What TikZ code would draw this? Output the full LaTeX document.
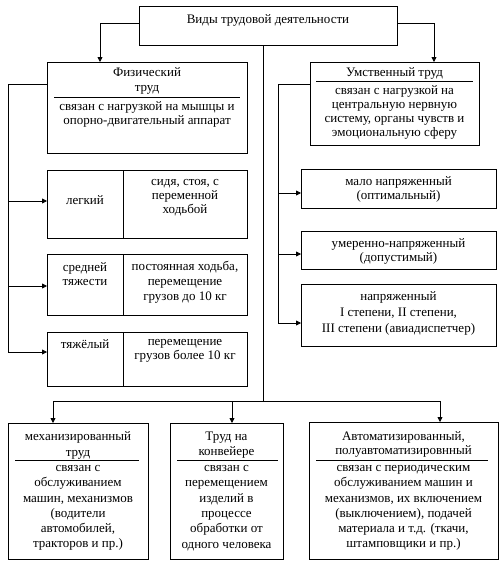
\documentclass[tikz,border=0pt]{standalone}
\usepackage{fontspec}
\setmainfont{Liberation Serif}
\usetikzlibrary{arrows.meta}
\begin{document}
\begin{tikzpicture}[x=1pt,y=-1pt,
  box/.style={draw, line width=0.8pt, inner sep=0pt, anchor=north west},
  txt/.style={align=center, inner sep=0pt, font=\fontsize{13}{14.5}\selectfont},
  txtb/.style={align=center, inner sep=0pt, font=\fontsize{13}{15.3}\selectfont},
  ln/.style={line width=0.8pt},
  conn/.style={line width=0.8pt, -{Triangle[length=5pt,width=5pt]}}]
\useasboundingbox[fill=white] (0,0) rectangle (500,563);

% top
\node[box, minimum width=258pt, minimum height=39pt] (top) at (139,6) {};
\node[txt] (toptxt) at (268,20) {Виды трудовой деятельности};

% physical
\node[box, minimum width=200pt, minimum height=91pt] (phys) at (47,62) {};
\node[txt, font=\fontsize{13}{15}\selectfont] (physT) at (147,80.5) {Физический\\труд};
\coordinate (ps1) at (54,97); \coordinate (ps2) at (240,97);
\draw[ln] (ps1) -- (ps2);
\node[txt, font=\fontsize{13}{13.5}\selectfont] (physB) at (147,114.5) {связан с нагрузкой на мышцы и\\опорно-двигательный аппарат};

% mental
\node[box, minimum width=169pt, minimum height=83pt] (ment) at (310,62) {};
\node[txt] (mentT) at (394.5,73) {Умственный труд};
\coordinate (ms1) at (316,81); \coordinate (ms2) at (473,81);
\draw[ln] (ms1) -- (ms2);
\node[txt, font=\fontsize{13}{13.8}\selectfont] (mentB) at (394.5,112.5) {связан с нагрузкой на\\центральную нервную\\систему, органы чувств и\\эмоциональную сферу};

% top connectors
\coordinate (tl) at (100,23); \coordinate (tr) at (434,23);
\draw[conn] (top.west |- tl) -- (tl) -- (tl |- phys.north);
\draw[conn] (top.east |- tr) -- (tr) -- (tr |- ment.north);

% left column boxes
\node[box, minimum width=200pt, minimum height=68pt] (legk) at (47,170) {};
\draw[ln] ([xshift=76pt]legk.north west) -- ([xshift=76pt]legk.south west);
\node[txt] (legkL) at (85,200) {легкий};
\node[txt, font=\fontsize{13}{14}\selectfont] (legkR) at (185,198) {сидя, стоя, с\\переменной\\ходьбой};

\node[box, minimum width=200pt, minimum height=61pt] (sred) at (47,254) {};
\draw[ln] ([xshift=76pt]sred.north west) -- ([xshift=76pt]sred.south west);
\node[txt, font=\fontsize{13}{14}\selectfont] (sredL) at (85,274) {средней\\тяжести};
\node[txt, font=\fontsize{13}{15}\selectfont] (sredR) at (185,282) {постоянная ходьба,\\перемещение\\грузов до 10 кг};

\node[box, minimum width=200pt, minimum height=54pt] (tyazh) at (47,332) {};
\draw[ln] ([xshift=76pt]tyazh.north west) -- ([xshift=76pt]tyazh.south west);
\node[txt] (tyazhL) at (85,344) {тяжёлый};
\node[txt, font=\fontsize{13}{14}\selectfont] (tyazhR) at (185,351) {перемещение\\грузов более 10 кг};

% left bracket
\coordinate (L1) at (8,84);
\coordinate (a1) at (8,201); \coordinate (a2) at (8,286); \coordinate (a3) at (8,352);
\draw[ln] (phys.west |- L1) -- (L1) -- (a3);
\draw[conn] (a1) -- (a1 -| legk.west);
\draw[conn] (a2) -- (a2 -| sred.west);
\draw[conn] (a3) -- (a3 -| tyazh.west);

% right column boxes
\node[box, minimum width=195pt, minimum height=39pt] (malo) at (301,169) {};
\node[txt, font=\fontsize{13}{13.5}\selectfont] (maloT) at (398.5,189.5) {мало напряженный\\(оптимальный)};
\node[box, minimum width=195pt, minimum height=38pt] (umer) at (301,231) {};
\node[txt, font=\fontsize{13}{13.5}\selectfont] (umerT) at (398.5,251.5) {умеренно-напряженный\\(допустимый)};
\node[box, minimum width=195pt, minimum height=62pt] (napr) at (301,284) {};
\node[txt, font=\fontsize{13}{16}\selectfont] (naprT) at (398.5,313) {напряженный\\I степени, II степени,\\III степени (авиадиспетчер)};

% right bracket
\coordinate (R1) at (278,84);
\coordinate (b1) at (278,193); \coordinate (b2) at (278,254); \coordinate (b3) at (278,323);
\draw[ln] (ment.west |- R1) -- (R1) -- (b3);
\draw[conn] (b1) -- (b1 -| malo.west);
\draw[conn] (b2) -- (b2 -| umer.west);
\draw[conn] (b3) -- (b3 -| napr.west);

% bottom boxes
\node[box, minimum width=140pt, minimum height=136pt] (mech) at (8,423) {};
\node[txtb, font=\fontsize{13}{16}\selectfont] (mechT) at (78,445.5) {механизированный\\труд};
\coordinate (es1) at (15,460); \coordinate (es2) at (139,460);
\draw[ln] (es1) -- (es2);
\node[txtb] (mechB) at (78,508) {связан с\\обслуживанием\\машин, механизмов\\(водители\\автомобилей,\\тракторов и пр.)};

\node[box, minimum width=113pt, minimum height=136pt] (conv) at (170,423) {};
\node[txtb, font=\fontsize{13}{15}\selectfont] (convT) at (226.5,445) {Труд на\\конвейере};
\coordinate (cs1) at (177,460); \coordinate (cs2) at (278,460);
\draw[ln] (cs1) -- (cs2);
\node[txtb] (convB) at (226.5,508) {связан с\\перемещением\\изделий в\\процессе\\обработки от\\одного человека};

\node[box, minimum width=189pt, minimum height=137pt] (auto) at (309,422) {};
\node[txtb, font=\fontsize{13}{14}\selectfont] (autoT) at (403.5,444) {Автоматизированный,\\полуавтоматизировнный};
\coordinate (as1) at (316,460); \coordinate (as2) at (488,460);
\draw[ln] (as1) -- (as2);
\node[txtb] (autoB) at (403.5,508) {связан с периодическим\\обслуживанием машин и\\механизмов, их включением\\(выключением), подачей\\материала и т.д. (ткачи,\\штамповщики и пр.)};

% center trunk and bottom bus
\coordinate (C) at (263,401);
\coordinate (B1) at (53,401); \coordinate (B2) at (232,401); \coordinate (B3) at (440,401);
\draw[ln] (top.south -| C) -- (C);
\draw[ln] (B1) -- (B3);
\draw[conn] (B1) -- (B1 |- mech.north);
\draw[conn] (B2) -- (B2 |- conv.north);
\draw[conn] (B3) -- (B3 |- auto.north);
\end{tikzpicture}
\end{document}
